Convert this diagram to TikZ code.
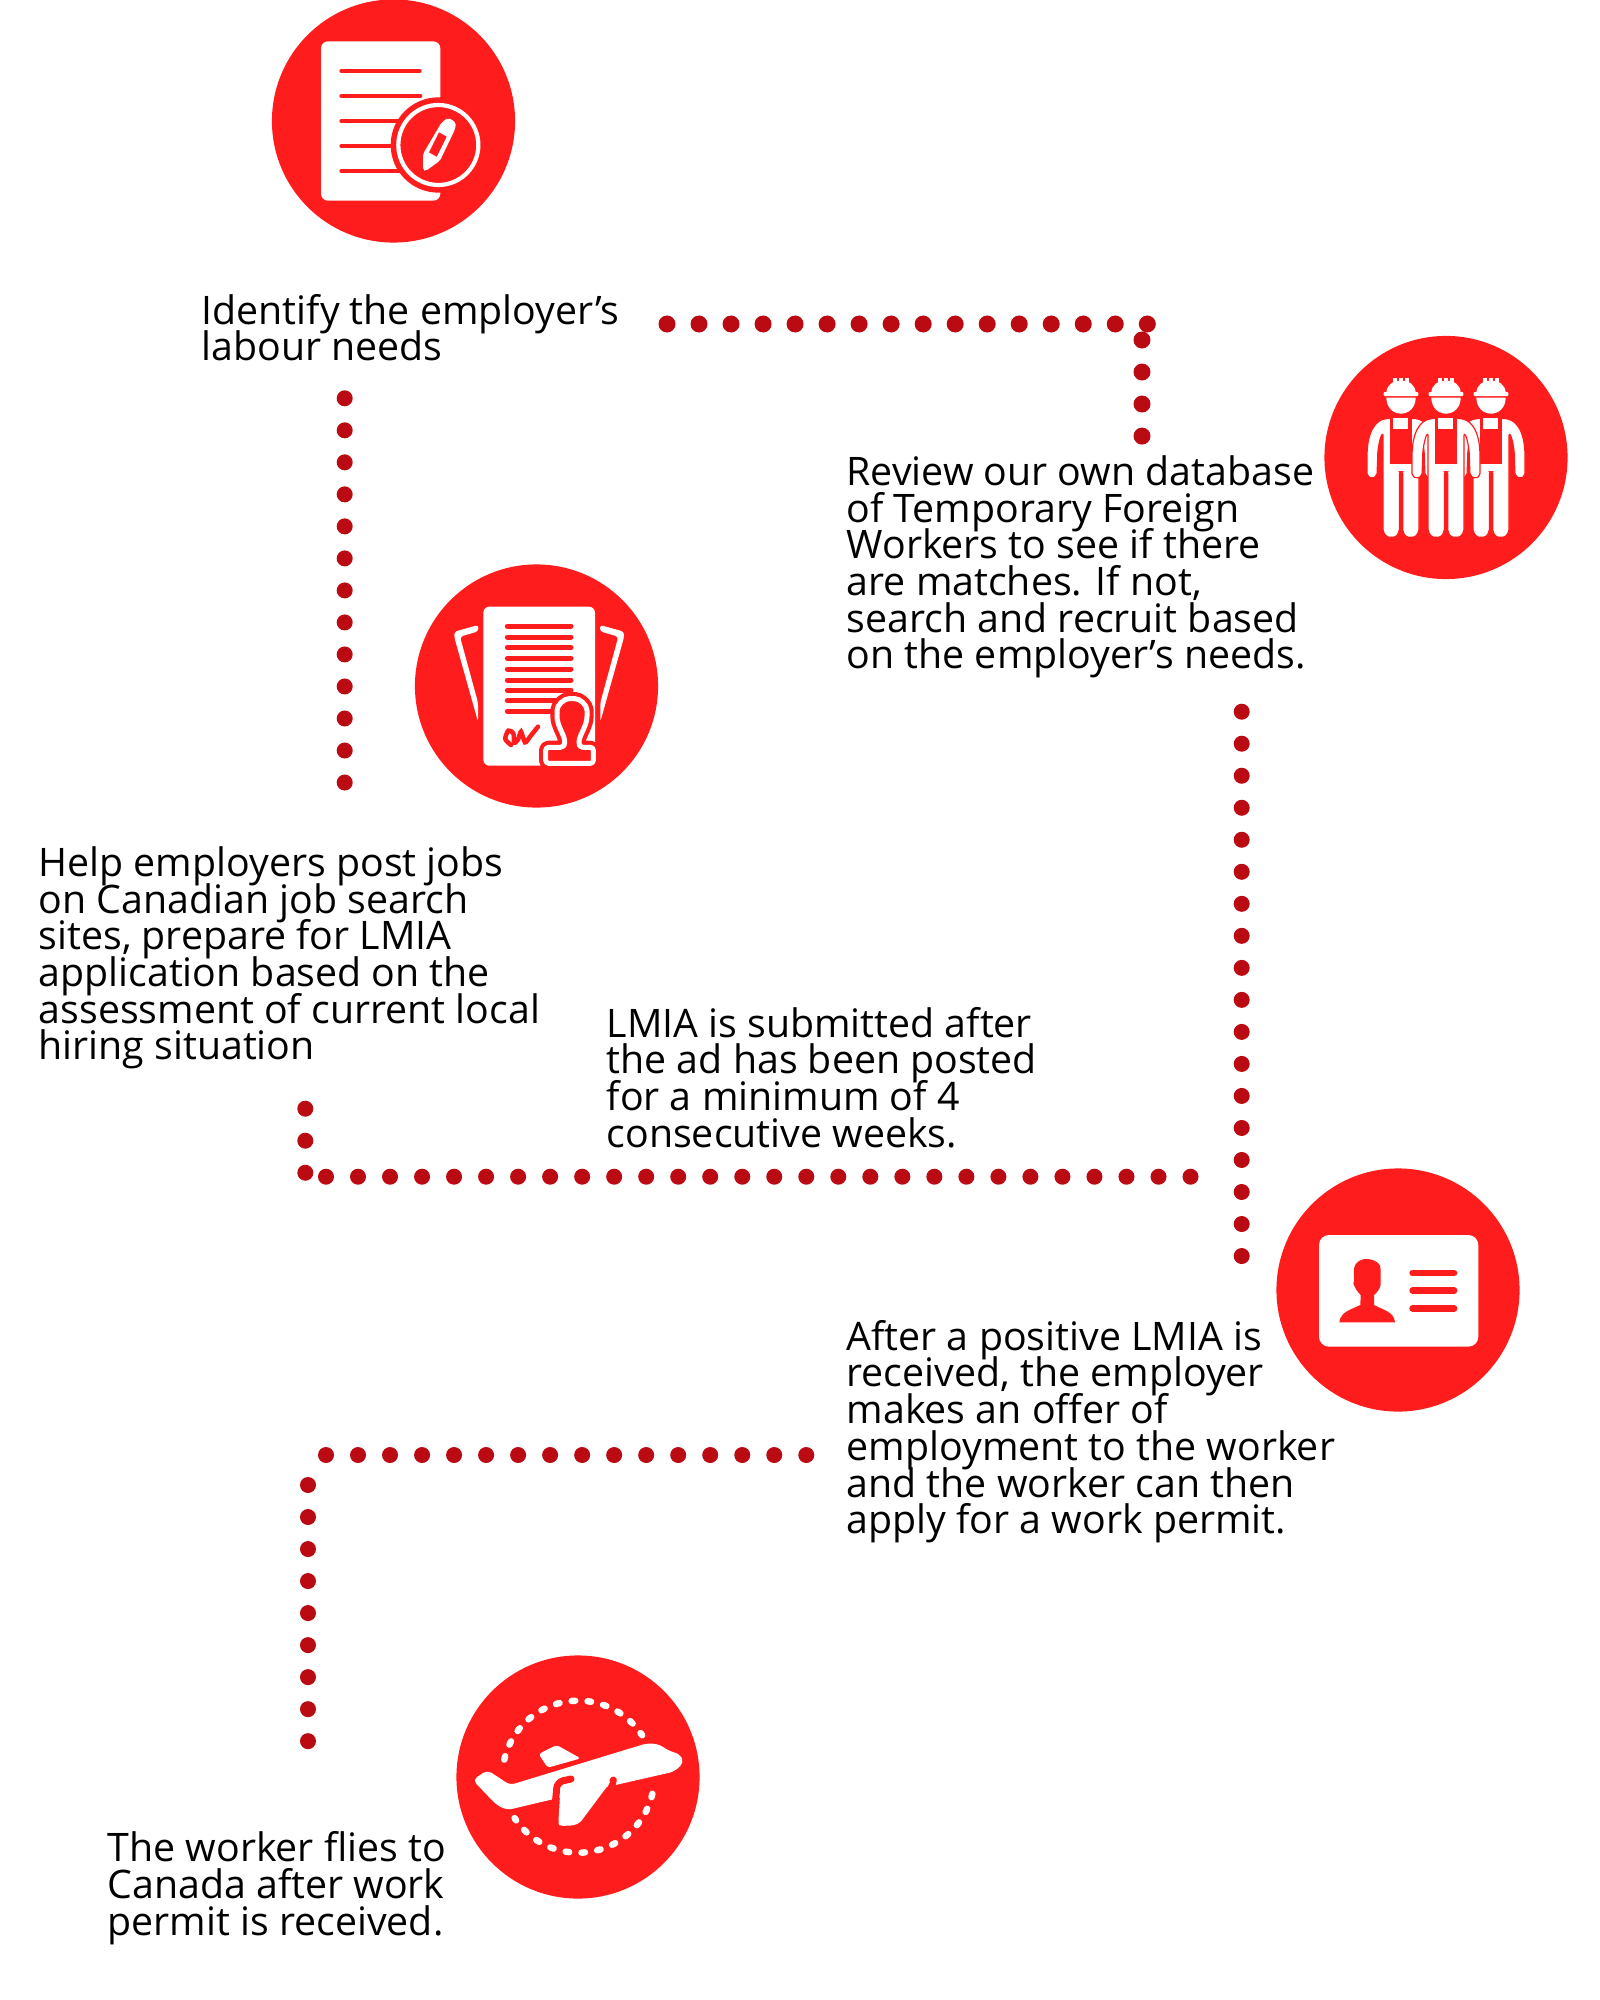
\documentclass[tikz,border=0pt]{standalone}
\usepackage{fontspec}
\setmainfont{Open Sans}
\lineskiplimit=-20pt
\definecolor{iconred}{HTML}{FF1C1C}
\definecolor{dotred}{HTML}{BA0A12}
\tikzstyle{cn}=[shape=circle,fill=iconred,minimum size=2.43cm,inner sep=0pt]
\tikzstyle{txt}=[font=\fontsize{11.17}{10.44}\selectfont,align=left,inner sep=0pt,anchor=north west,text=black]
\tikzstyle{dotline}=[draw=dotred,line width=0.16cm,line cap=round,dash pattern=on 0pt off 0.32cm]
\tikzstyle{wf}=[fill=white]
\tikzstyle{rl}=[draw=iconred,line cap=round]
\begin{document}
\begin{tikzpicture}[x=0.01cm,y=-0.01cm]
        \useasboundingbox (0,0) rectangle (1600,2000);
        \fill[white] (0,0) rectangle (1600,2000);

        \node[cn] (need) at (393.5,121) {}
        ;
        \node[cn] (worker) at (1446,457.5) {}
        ;
        \node[cn] (post) at (536.5,686) {}
        ;
        \node[cn] (card) at (1398,1290) {}
        ;
        \node[cn] (plane) at (578,1777) {}
        ;

        \node[txt] (needtxt) at (201,293.5) {Identify the employer’s\\labour needs}
        ;
        \node[txt] (reviewtxt) at (846,454.8) {Review our own database\\of Temporary Foreign\\Workers to see if there\\are matches. If not,\\search and recruit based\\on the employer’s needs.}
        ;
        \node[txt] (posttxt) at (38,845.8) {Help employers post jobs\\on Canadian job search\\sites, prepare for LMIA\\application based on the\\assessment of current local\\hiring situation}
        ;
        \node[txt] (lmiatxt) at (606,1006.5) {LMIA is submitted after\\the ad has been posted\\for a minimum of 4\\consecutive weeks.}
        ;
        \node[txt] (offertxt) at (846,1319.5) {After a positive LMIA is\\received, the employer\\makes an offer of\\employment to the worker\\and the worker can then\\apply for a work permit.}
        ;
        \node[txt] (fliestxt) at (107,1831) {The worker flies to\\Canada after work\\permit is received.}
        ;

        \coordinate (a2) at (1148,324);
        \coordinate (a1) at (667,324) edge[dotline,line width=0.17cm] (a2)
        ;
        \coordinate (b2) at (1142,437);
        \coordinate (b1) at (1142,340) edge[dotline,line width=0.17cm] (b2)
        ;
        \coordinate (c2) at (344.7,783.5);
        \coordinate (c1) at (344.7,398.3) edge[dotline] (c2)
        ;
        \coordinate (d2) at (305.3,1174);
        \coordinate (d1) at (305.3,1108.7) edge[dotline] (d2)
        ;
        \coordinate (e2) at (1191,1176.7);
        \coordinate (e1) at (326,1176.7) edge[dotline] (e2)
        ;
        \coordinate (f2) at (1241.7,1257);
        \coordinate (f1) at (1241.7,711.7) edge[dotline] (f2)
        ;
        \coordinate (g2) at (807,1455);
        \coordinate (g1) at (326,1455) edge[dotline] (g2)
        ;
        \coordinate (h2) at (308,1742);
        \coordinate (h1) at (308,1485) edge[dotline] (h2)
        ;

        % sheet with pencil
        \begin{scope}[shift={(260,0)},scale=1/3]
        \fill[wf,rounded corners=0.07cm] (183,124) rectangle (541,602);
        \foreach \ya/\xb in {213/478,288/480,363/450,438/450,513/450}
            \draw[rl,line width=0.047cm] (245,\ya) -- (\xb,\ya);
        \fill[iconred] (535,435) circle (143);
        \draw[white,line width=0.042cm] (535,435) circle (120);
        \fill[wf,rounded corners=0.02cm] (489,462) -- (545,367) -- (565,353) -- (588,368) -- (585,388) -- (540,482) -- (497,513) -- (489,510) -- cycle;
        \fill[iconred] (537,397) -- (560,410) -- (530,470) -- (507,457) -- cycle;
        \end{scope}

        % three workers
        \begin{scope}[shift={(1310,330)},scale=1/3]
        \foreach \c in {273,543,408} {
            \filldraw[wf,draw=iconred,line width=0.012cm,rounded corners=0.02cm] ({\c-35},265) .. controls ({\c-80},268) and ({\c-102},310) .. ({\c-102},385) -- ({\c-102},437) -- ({\c-88},446) -- ({\c-72},437) -- ({\c-70},385) .. controls ({\c-70},355) and ({\c-62},320) .. ({\c-54},310) -- ({\c-54},605) -- ({\c-42},622) -- ({\c-16},622) -- ({\c-5},605) -- ({\c-5},425) -- ({\c+5},425) -- ({\c+5},605) -- ({\c+16},622) -- ({\c+42},622) -- ({\c+54},605) -- ({\c+54},310) .. controls ({\c+62},320) and ({\c+70},355) .. ({\c+70},385) -- ({\c+72},437) -- ({\c+88},446) -- ({\c+102},437) -- ({\c+102},385) .. controls ({\c+102},310) and ({\c+80},268) .. ({\c+35},265) -- cycle;
            \fill[iconred] ({\c-34},265) rectangle ({\c+32},403);
            \fill[wf] ({\c-23},265) rectangle ({\c+22},298);
            \fill[wf] ({\c-44},190) .. controls ({\c-44},165) and ({\c-25},152) .. (\c,152) .. controls ({\c+25},152) and ({\c+44},165) .. ({\c+44},190) -- cycle;
            \foreach \k in {-18,0,18}
                \fill[wf] ({\c+\k-5},143) rectangle ({\c+\k+5},160);
            \fill[wf,rounded corners=0.01cm] ({\c-52},186) rectangle ({\c+52},198);
            \fill[wf] ({\c-44},203) .. controls ({\c-44},232) and ({\c-24},251) .. (\c,251) .. controls ({\c+24},251) and ({\c+44},232) .. ({\c+44},203) -- cycle;
        }
        \end{scope}

        % contract with stamp
        \begin{scope}[shift={(410,560)},scale=1/3]
        \fill[wf,rounded corners=0.06cm] (220,140) rectangle (555,617);
        \foreach \ya in {198,231,263,295,327,360,391,422,454}
            \draw[rl,line width=0.05cm] (292,\ya) -- (483,\ya);
        \foreach \m in {0,1} {
            \fill[wf,rounded corners=0.03cm] ({\m*775+(1-2*\m)*205},195) -- ({\m*775+(1-2*\m)*133},215) -- ({\m*775+(1-2*\m)*133},232) -- ({\m*775+(1-2*\m)*204},485) -- ({\m*775+(1-2*\m)*204},428) -- ({\m*775+(1-2*\m)*150},230) -- ({\m*775+(1-2*\m)*205},214) -- cycle;
        }
        \draw[iconred,line width=0.045cm,line cap=round] plot[smooth] coordinates {(303,555) (286,537) (295,512) (310,520) (313,548) (325,537) (333,515) (345,547) (360,530) (384,500)};
        \filldraw[iconred,line join=round,rounded corners=0.03cm,line width=0.133cm] (465,548) .. controls (460,520) and (441,495) .. (441,460) .. controls (441,435) and (462,416) .. (486,416) .. controls (510,416) and (531,435) .. (531,460) .. controls (531,495) and (512,520) .. (506,548) -- (510,562) -- (550,562) -- (550,610) -- (407,610) -- (407,562) -- (460,562) -- cycle;
        \draw[white,line join=round,rounded corners=0.03cm,line width=0.05cm] (465,548) .. controls (460,520) and (441,495) .. (441,460) .. controls (441,435) and (462,416) .. (486,416) .. controls (510,416) and (531,435) .. (531,460) .. controls (531,495) and (512,520) .. (506,548) -- (510,562) -- (550,562) -- (550,610) -- (407,610) -- (407,562) -- (460,562) -- cycle;
        \end{scope}

        % id card
        \begin{scope}[shift={(1270,1160)},scale=1/3]
        \fill[wf,rounded corners=0.1cm] (147,225) rectangle (625,560);
        \foreach \ya in {339,392,445}
            \draw[rl,line width=0.067cm] (428,\ya) -- (552,\ya);
        \fill[iconred] (208,487) .. controls (212,455) and (240,450) .. (271,435) -- (272,405) .. controls (262,395) and (255,385) .. (250,370) .. controls (255,360) and (250,350) .. (252,325) .. controls (255,305) and (275,295) .. (295,297) .. controls (315,300) and (335,310) .. (332,330) -- (332,375) .. controls (328,390) and (320,398) .. (312,405) -- (312,435) .. controls (340,450) and (372,455) .. (375,487) -- cycle;
        \end{scope}

        % plane in dashed ring
        \begin{scope}[shift={(450,1650)},scale=1/3]
        \draw[white,line width=0.065cm,line cap=round,dash pattern=on 0.035cm off 0.124cm] plot[domain=167:33,samples=60] ({385+228*cos(\x)},{380-228*sin(\x)});
        \draw[white,line width=0.065cm,line cap=round,dash pattern=on 0.035cm off 0.124cm] plot[domain=-13:-147,samples=60] ({385+228*cos(\x)},{380-228*sin(\x)});
        \fill[wf,rounded corners=0.05cm] (68,390) -- (112,360) -- (180,405) -- (590,280) -- (625,282) -- (660,304) -- (690,312) -- (702,338) -- (672,365) -- (320,445) -- (172,480) -- (140,465) -- cycle;
        \fill[wf,rounded corners=0.03cm] (266,312) -- (320,285) -- (392,325) -- (293,353) -- cycle;
        \draw[iconred,line width=0.07cm,line cap=round,rounded corners=0.06cm] (363,387) -- (322,396) -- (314,480);
        \draw[iconred,line width=0.07cm,line cap=round] (490,390) -- (482,420) -- (410,520);
        \fill[wf,rounded corners=0.03cm] (332,405) -- (484,392) -- (390,518) -- (372,526) -- (330,528) -- (325,520) -- cycle;
        \end{scope}
    \end{tikzpicture}
\end{document}
